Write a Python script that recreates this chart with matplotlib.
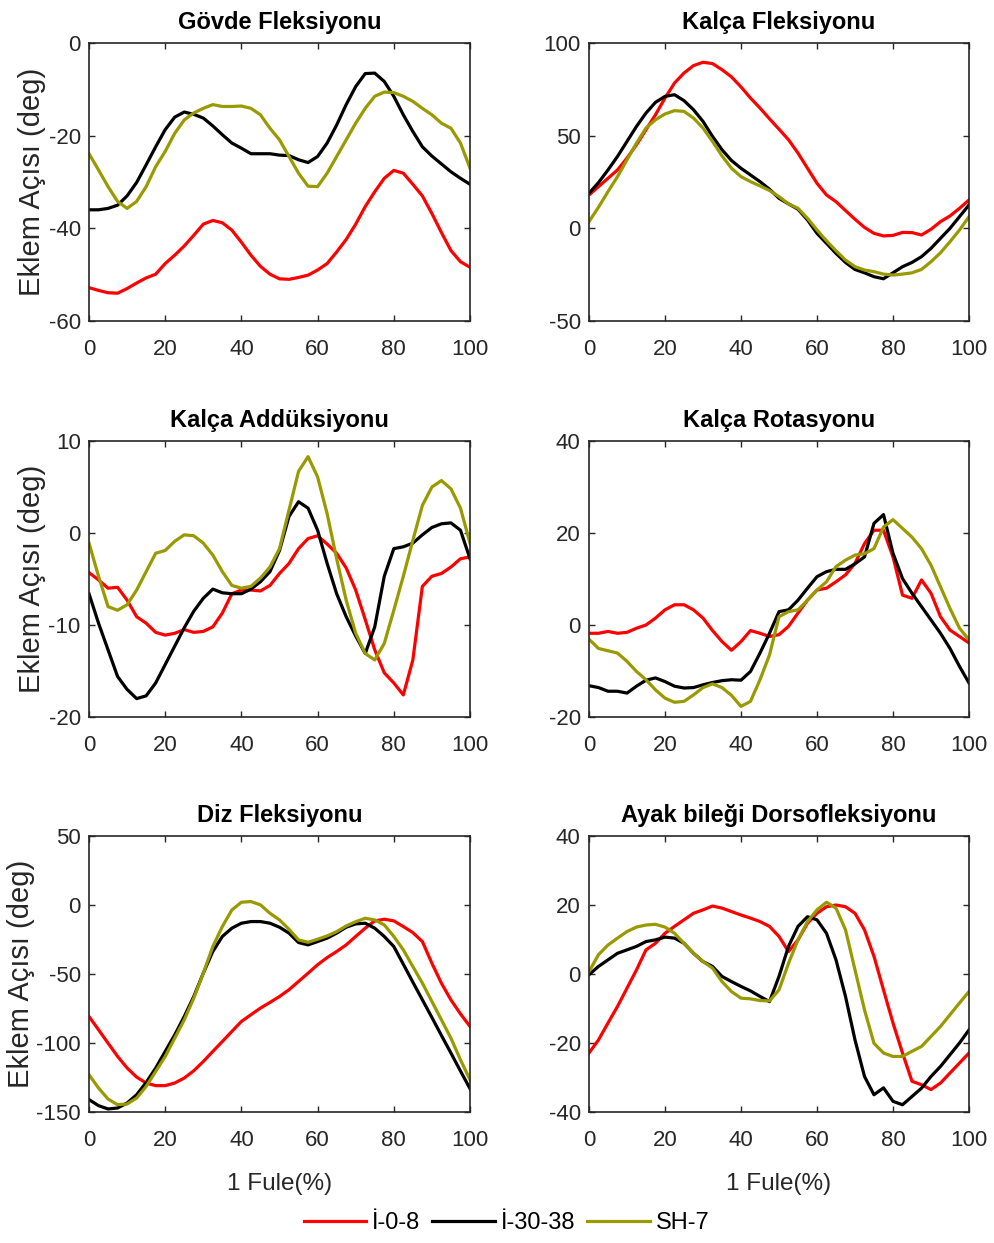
import numpy as np
import matplotlib
matplotlib.use("Agg")
import matplotlib.pyplot as plt

# gait cycle, percent
pct = np.arange(0, 100.1, 2.5)

series_names = ["İ-0-8", "İ-30-38", "SH-7"]
series_colors = ["#ff0000", "#000000", "#999900"]

titles = ["Gövde Fleksiyonu", "Kalça Fleksiyonu", "Kalça Addüksiyonu",
          "Kalça Rotasyonu", "Diz Fleksiyonu", "Ayak bileği Dorsofleksiyonu"]

# trunk flexion
trunk_i08 = [-52.8, -53.4, -53.9, -54.0, -53.0, -51.8, -50.7, -49.9, -47.6, -45.8, -43.8,
             -41.5, -39.1, -38.3, -38.8, -40.4, -43.0, -45.8, -48.2, -49.9, -50.9, -51.0,
             -50.6, -50.1, -49.0, -47.6, -45.1, -42.4, -39.1, -35.3, -32.1, -29.2, -27.5,
             -28.1, -30.5, -33.0, -36.8, -40.9, -44.8, -47.2, -48.4]
trunk_i3038 = [-36.0, -36.0, -35.7, -35.0, -33.0, -30.1, -26.3, -22.4, -18.7, -16.0, -14.9,
               -15.4, -16.2, -17.9, -19.8, -21.6, -22.7, -23.9, -23.9, -23.9, -24.2, -24.3,
               -25.2, -25.8, -24.5, -21.6, -17.7, -13.3, -9.4, -6.6, -6.5, -8.3, -11.5,
               -15.5, -19.1, -22.4, -24.4, -26.1, -27.8, -29.2, -30.5]
trunk_sh7 = [-23.9, -27.4, -31.0, -34.2, -35.7, -34.2, -31.0, -26.7, -23.4, -19.5, -16.6,
             -15.1, -14.1, -13.3, -13.7, -13.7, -13.6, -14.1, -15.5, -18.4, -20.9, -24.5,
             -28.1, -30.9, -31.0, -28.1, -24.5, -20.9, -17.3, -14.1, -11.5, -10.6, -10.7,
             -11.5, -12.6, -14.1, -15.5, -17.3, -18.4, -21.6, -27.0]

# hip flexion
hipflex_i08 = [18.0, 22.5, 27.0, 31.5, 37.9, 45.1, 53.2, 61.3, 70.3, 78.4, 83.8,
               87.8, 89.6, 88.9, 85.6, 81.7, 76.3, 70.3, 64.9, 59.1, 53.5, 47.8,
               40.6, 32.4, 24.3, 18.0, 14.4, 9.6, 4.9, 0.5, -2.7, -4.1, -3.8,
               -2.2, -2.3, -3.6, -0.5, 3.6, 6.7, 10.8, 15.3]
hipflex_i3038 = [18.9, 24.7, 31.5, 38.8, 46.9, 55.0, 62.2, 68.0, 71.2, 72.1, 68.9,
                 64.0, 57.7, 49.6, 42.4, 36.6, 32.4, 28.8, 25.2, 21.1, 16.2, 13.2,
                 10.3, 4.5, -2.7, -8.1, -13.5, -18.4, -22.2, -24.0, -26.1, -27.2, -24.0,
                 -20.7, -18.4, -15.3, -10.8, -5.4, 0.0, 6.3, 12.6]
hipflex_sh7 = [3.6, 11.4, 19.8, 27.9, 37.0, 46.0, 54.1, 58.6, 61.7, 63.5, 63.1,
               59.5, 54.1, 46.9, 39.1, 32.4, 27.9, 25.2, 22.9, 20.4, 17.1, 13.2,
               10.8, 5.4, -0.9, -6.7, -12.1, -17.1, -20.7, -22.5, -23.4, -24.7, -25.2,
               -24.7, -24.0, -22.2, -18.0, -13.2, -7.2, -0.9, 6.3]

# hip adduction
hipadd_i08 = [-4.3, -5.1, -6.0, -5.9, -7.3, -9.1, -9.8, -10.8, -11.1, -10.9, -10.5,
              -10.8, -10.7, -10.2, -8.7, -6.6, -6.2, -6.2, -6.3, -5.7, -4.4, -3.3,
              -1.7, -0.6, -0.3, -1.2, -2.2, -3.8, -6.2, -9.4, -12.7, -15.2, -16.3,
              -17.6, -13.8, -5.8, -4.7, -4.4, -3.7, -2.8, -2.6]
hipadd_i3038 = [-6.6, -9.8, -12.7, -15.6, -17.0, -18.0, -17.7, -16.3, -14.3, -12.3, -10.3,
                -8.5, -7.1, -6.1, -6.5, -6.6, -6.6, -6.1, -5.3, -4.2, -1.9, 1.8,
                3.4, 2.7, 0.3, -3.3, -6.6, -9.1, -11.2, -13.1, -10.2, -4.7, -1.7,
                -1.5, -1.1, -0.2, 0.6, 1.0, 1.1, 0.3, -2.8]
hipadd_sh7 = [-1.1, -4.7, -8.0, -8.4, -7.8, -6.2, -4.2, -2.2, -1.9, -0.9, -0.2,
              -0.3, -1.1, -2.4, -4.2, -5.7, -6.0, -5.8, -4.9, -3.7, -1.7, 2.5,
              6.7, 8.3, 6.1, 2.1, -2.8, -7.3, -10.9, -13.1, -13.8, -12.0, -8.4,
              -4.7, -0.8, 3.0, 5.0, 5.7, 4.8, 2.7, -1.1]

# hip rotation
hiprot_i08 = [-1.8, -1.8, -1.4, -1.8, -1.6, -0.7, 0.0, 1.5, 3.3, 4.4, 4.4,
              3.3, 1.5, -1.2, -3.6, -5.5, -3.6, -1.2, -1.8, -2.5, -2.1, -0.3,
              2.6, 5.4, 7.6, 8.0, 9.4, 10.9, 13.4, 17.7, 20.6, 20.6, 14.8,
              6.5, 5.8, 9.8, 6.9, 1.8, -1.1, -2.5, -3.9]
hiprot_i3038 = [-13.2, -13.6, -14.4, -14.4, -14.8, -13.3, -12.0, -11.5, -12.3, -13.3, -13.7,
                -13.6, -13.0, -12.5, -12.1, -11.9, -12.0, -10.1, -6.1, -1.8, 2.9, 3.3,
                5.4, 8.0, 10.5, 11.6, 12.1, 12.1, 13.3, 14.8, 22.1, 24.0, 15.6,
                10.1, 6.9, 4.0, 1.1, -1.8, -5.1, -9.0, -12.6]
hiprot_sh7 = [-3.1, -5.1, -5.6, -6.1, -7.9, -10.1, -11.9, -14.1, -15.9, -16.8, -16.6,
              -15.2, -13.6, -12.8, -13.6, -15.3, -17.7, -16.6, -11.9, -6.5, 1.8, 2.9,
              3.3, 5.4, 7.6, 9.4, 12.7, 14.1, 15.2, 15.5, 16.6, 21.3, 22.9,
              21.0, 19.1, 16.6, 13.0, 8.3, 3.6, -0.7, -3.2]

# knee flexion
knee_i08 = [-80.8, -90.4, -100.1, -109.7, -118.1, -124.7, -129.0, -130.9, -130.9, -129.0, -125.4,
            -120.1, -113.4, -106.1, -98.9, -91.6, -84.4, -79.5, -74.7, -70.6, -66.3, -61.4,
            -55.4, -49.4, -43.3, -38.1, -33.7, -28.9, -22.8, -16.8, -11.5, -10.3, -11.5,
            -15.6, -20.0, -26.5, -42.2, -56.7, -68.8, -78.9, -88.0]
knee_i3038 = [-141.0, -145.4, -147.8, -147.1, -143.5, -137.5, -128.6, -118.2, -106.1, -94.1, -80.8,
              -66.3, -49.4, -33.7, -22.8, -16.8, -13.2, -12.0, -12.0, -13.2, -16.1, -20.4,
              -27.2, -28.9, -26.5, -24.0, -20.4, -16.1, -13.7, -13.2, -16.8, -22.8, -30.1,
              -42.9, -55.9, -68.7, -81.5, -94.5, -107.3, -120.3, -133.1]
knee_sh7 = [-123.0, -132.6, -140.6, -144.7, -144.2, -139.9, -131.5, -120.6, -109.8, -96.5, -83.2,
            -67.5, -49.4, -30.1, -15.6, -3.6, 2.0, 2.5, 0.1, -6.0, -10.8, -17.6,
            -25.3, -27.0, -24.8, -22.4, -19.3, -15.2, -12.1, -9.6, -10.8, -14.4, -22.8,
            -32.5, -44.6, -56.6, -69.9, -83.2, -96.5, -112.2, -126.6]

# ankle dorsiflexion
ankle_i08 = [-22.9, -19.1, -14.2, -9.4, -4.1, 1.2, 7.0, 8.9, 11.8, 13.8, 15.7,
             17.6, 18.6, 19.7, 19.1, 18.1, 17.1, 16.2, 15.2, 13.8, 10.9, 6.5,
             9.9, 14.7, 17.6, 19.5, 20.0, 19.5, 17.6, 12.8, 5.1, -4.6, -14.2,
             -22.9, -31.1, -32.1, -33.5, -31.6, -28.7, -25.8, -22.9]
ankle_i3038 = [-0.2, 2.2, 4.1, 6.0, 7.0, 8.0, 9.4, 9.9, 10.7, 10.4, 8.9,
               6.0, 3.6, 2.2, -0.7, -2.2, -3.6, -4.9, -6.5, -8.0, -0.7, 8.0,
               13.8, 16.6, 15.7, 11.8, 4.1, -6.5, -19.1, -29.7, -35.0, -33.0, -36.9,
               -37.9, -35.5, -33.1, -29.7, -26.8, -23.4, -20.0, -16.2]
ankle_sh7 = [0.7, 5.6, 8.4, 10.4, 12.3, 13.6, 14.2, 14.4, 13.6, 11.8, 8.9,
             6.0, 3.6, 1.7, -2.2, -5.1, -7.0, -7.2, -7.7, -7.8, -4.6, 3.1,
             9.9, 15.2, 18.6, 20.8, 19.1, 12.8, 1.2, -10.4, -20.1, -22.9, -23.9,
             -23.9, -22.4, -21.0, -18.1, -15.2, -11.8, -8.4, -5.1]

panels = [
    (trunk_i08, trunk_i3038, trunk_sh7),
    (hipflex_i08, hipflex_i3038, hipflex_sh7),
    (hipadd_i08, hipadd_i3038, hipadd_sh7),
    (hiprot_i08, hiprot_i3038, hiprot_sh7),
    (knee_i08, knee_i3038, knee_sh7),
    (ankle_i08, ankle_i3038, ankle_sh7),
]
ylims = [(-60, 0), (-50, 100), (-20, 10), (-20, 40), (-150, 50), (-40, 40)]
yticks = [[-60, -40, -20, 0], [-50, 0, 50, 100], [-20, -10, 0, 10],
          [-20, 0, 20, 40], [-150, -100, -50, 0, 50], [-40, -20, 0, 20, 40]]

plt.rcParams["font.family"] = ["Liberation Sans", "DejaVu Sans"]
plt.rcParams["axes.unicode_minus"] = False

W, H = 995, 1243
fig = plt.figure(figsize=(W / 100, H / 100), dpi=100)

col_x = [(89, 381), (589, 380)]
row_y = [(43, 321), (441, 717), (836, 1112)]
# right edge of the y label, in axes fraction
ylab_x = [-0.112, -0.112, -0.142]
grey = "#262626"

for k in range(6):
    r, c = divmod(k, 2)
    x0, w = col_x[c]
    top, bot = row_y[r]
    ax = fig.add_axes([x0 / W, 1 - bot / H, w / W, (bot - top) / H])
    for vals, col in zip(panels[k], series_colors):
        ax.plot(pct, vals, color=col, lw=2.3)
    ax.set_xlim(0, 100)
    ax.set_ylim(*ylims[k])
    ax.set_xticks([0, 20, 40, 60, 80, 100])
    ax.set_yticks(yticks[k])
    ax.tick_params(direction="in", top=True, right=True, length=4, width=1,
                   colors=grey, labelsize=16)
    ax.tick_params(axis="x", pad=13)
    ax.tick_params(axis="y", pad=6)
    for sp in ax.spines.values():
        sp.set_color(grey)
        sp.set_linewidth(1.2)
    ax.set_title(titles[k], fontsize=17, fontweight="bold", pad=10)
    if c == 0:
        ax.set_ylabel("Eklem Açısı (deg)", fontsize=21, color=grey)
        ax.yaxis.set_label_coords(ylab_x[r], 0.5)
    if r == 2:
        ax.set_xlabel("1 Fule(%)", fontsize=17.5, color=grey, labelpad=16)

handles = [plt.Line2D([], [], color=col, lw=2.3) for col in series_colors]
fig.legend(handles, series_names, loc="center", bbox_to_anchor=(0.509, 1 - 1223 / H),
           ncol=3, frameon=False, fontsize=17, handlelength=2.65, handletextpad=0.25,
           columnspacing=0.5)

fig.savefig("out.png", dpi=100)
